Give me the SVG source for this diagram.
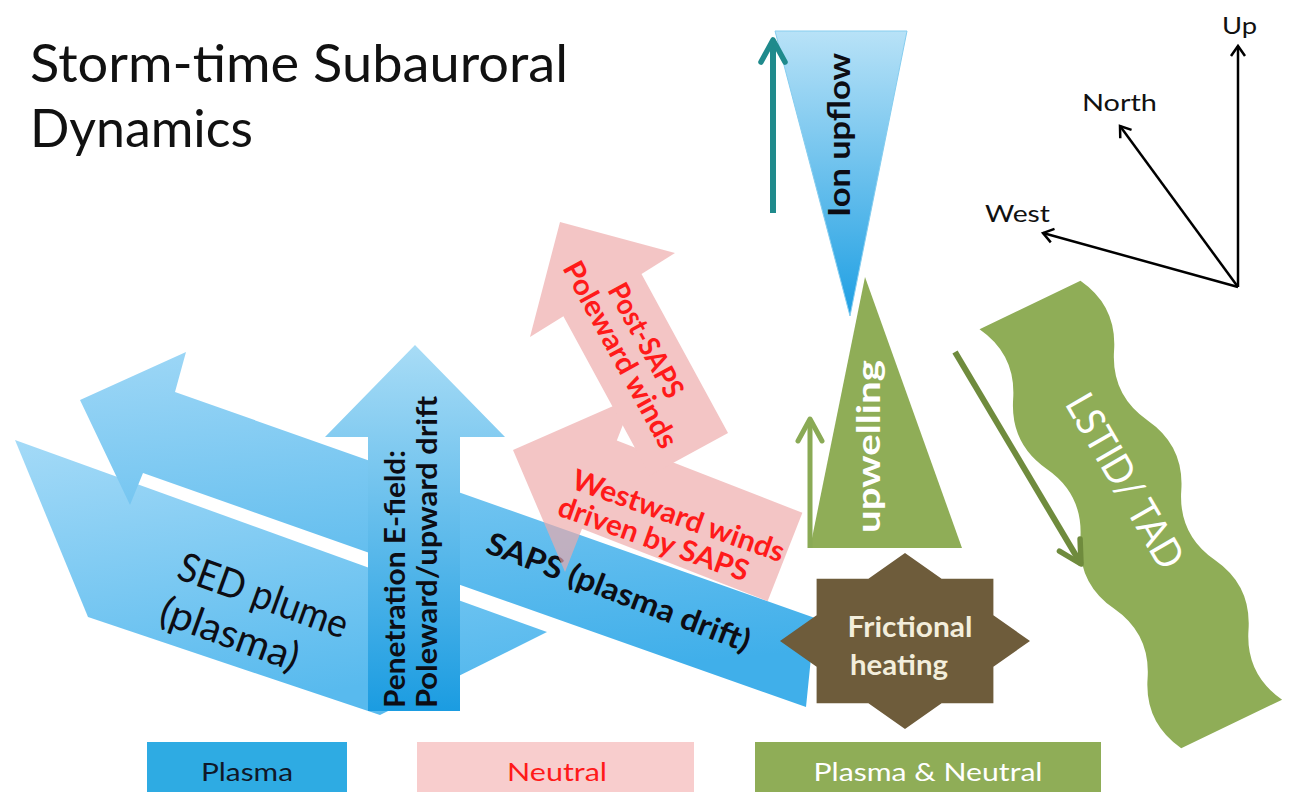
<svg xmlns="http://www.w3.org/2000/svg" width="1298" height="792" viewBox="0 0 1298 792">
<defs>
<style>
.f{font-family:Lato,"Noto Sans","DejaVu Sans",sans-serif}
.b{font-weight:700}
.red{fill:#ff1a1a}
.blk{fill:#0d0d14}
.wht{fill:#ffffff}
.cmp{fill:none;stroke:#000;stroke-width:2.5}
</style>
<linearGradient id="gSED" x1="0" y1="0" x2="0.3" y2="1"><stop offset="0" stop-color="#a4daf7"/><stop offset="1" stop-color="#58baee"/></linearGradient>
<linearGradient id="gSAPS" x1="0" y1="0" x2="0.2" y2="1"><stop offset="0" stop-color="#9ed7f6"/><stop offset="1" stop-color="#40afea"/></linearGradient>
<linearGradient id="gPen" x1="0" y1="0" x2="0" y2="1"><stop offset="0" stop-color="#a8dcf6"/><stop offset="1" stop-color="#1b9ce1"/></linearGradient>
<linearGradient id="gIon" x1="0" y1="0" x2="0" y2="1"><stop offset="0" stop-color="#b8e2f7"/><stop offset="1" stop-color="#1e9fe3"/></linearGradient>
<marker id="mBlack" viewBox="0 0 16 16" refX="13" refY="8" markerWidth="16" markerHeight="16" markerUnits="userSpaceOnUse" orient="auto" overflow="visible"><path d="M3,1 L13,8 L3,15" fill="none" stroke="#000" stroke-width="2.5"/></marker>
<marker id="mTeal" viewBox="0 0 30 30" refX="26" refY="15" markerWidth="30" markerHeight="30" markerUnits="userSpaceOnUse" orient="auto" overflow="visible"><path d="M4,3 L26,15 L4,27" fill="none" stroke="#1f8a8c" stroke-width="5.5" stroke-linecap="round" stroke-linejoin="round"/></marker>
<marker id="mGreen" viewBox="0 0 30 30" refX="26" refY="15" markerWidth="30" markerHeight="30" markerUnits="userSpaceOnUse" orient="auto" overflow="visible"><path d="M4,3 L26,15 L4,27" fill="none" stroke="#8aaa55" stroke-width="5" stroke-linecap="round" stroke-linejoin="round"/></marker>
<marker id="mOlive" viewBox="0 0 30 30" refX="26" refY="15" markerWidth="30" markerHeight="30" markerUnits="userSpaceOnUse" orient="auto" overflow="visible"><path d="M4,3 L26,15 L4,27" fill="none" stroke="#6f8b3d" stroke-width="5.5" stroke-linecap="round" stroke-linejoin="round"/></marker>
</defs>
<rect width="1298" height="792" fill="#ffffff"/>

<g id="node-sed-plume">
<polygon points="15,440 547,632 380,715 88,617" fill="url(#gSED)"/>
</g>
<g id="node-saps">
<polygon points="80,400 186,352 175,392 815,618 806,707 143,473 130,505" fill="url(#gSAPS)"/>
</g>
<g id="node-penetration">
<polygon points="415,345 505,437 460,437 460,711 368,711 368,437 325,437" fill="url(#gPen)"/>
</g>

<g id="labels-plasma" class="f">
<g transform="translate(175,578) rotate(20)"><text x="0" y="0" font-size="40" class="blk" textLength="178" lengthAdjust="spacingAndGlyphs">SED plume</text></g>
<g transform="translate(157,622) rotate(20)"><text x="0" y="0" font-size="40" class="blk" textLength="145" lengthAdjust="spacingAndGlyphs">(plasma)</text></g>
<g transform="translate(484,552) rotate(21)"><text x="0" y="0" font-size="31" class="b blk" textLength="280" lengthAdjust="spacingAndGlyphs">SAPS (plasma drift)</text></g>
<g transform="translate(405,708) rotate(-90)"><text x="0" y="0" font-size="29" class="b blk" textLength="258" lengthAdjust="spacingAndGlyphs">Penetration E-field:</text></g>
<g transform="translate(437,708) rotate(-90)"><text x="0" y="0" font-size="29" class="b blk" textLength="312" lengthAdjust="spacingAndGlyphs">Poleward/upward drift</text></g>
</g>

<g id="winds" opacity="0.68">
<g id="node-westward-winds"><polygon points="513,450 633.8,397 616.8,440.4 802.4,512.8 767.6,601.2 582,528.8 565,572" fill="#eeaaaa"/></g>
<g id="node-post-saps"><polygon points="560,222 675,253 641.5,274 728,433 650,475.5 563.4,316.3 530,337" fill="#eeaaaa"/></g>
</g>
<g id="labels-winds" class="f b red">
<g transform="translate(570,488) rotate(19.5)"><text x="0" y="0" font-size="29" textLength="223" lengthAdjust="spacingAndGlyphs">Westward winds</text></g>
<g transform="translate(556,515) rotate(19.5)"><text x="0" y="0" font-size="29" textLength="200" lengthAdjust="spacingAndGlyphs">driven by SAPS</text></g>
<g transform="translate(607,290) rotate(61.4)"><text x="0" y="0" font-size="29" textLength="126" lengthAdjust="spacingAndGlyphs">Post-SAPS</text></g>
<g transform="translate(562,268) rotate(61.4)"><text x="0" y="0" font-size="29" textLength="208" lengthAdjust="spacingAndGlyphs">Poleward winds</text></g>
</g>

<g id="node-ion-upflow">
<polygon points="775,31 907,31 850,316" fill="url(#gIon)" stroke="#86cdef" stroke-width="1"/>
<g transform="translate(850,217) rotate(-90)"><text class="f b blk" x="0" y="0" font-size="30" textLength="164" lengthAdjust="spacingAndGlyphs">Ion upflow</text></g>
</g>

<g id="node-upwelling">
<polygon points="865,277 962,548 810,548" fill="#8fad57"/>
<g transform="translate(880,533) rotate(-90)"><text class="f b wht" x="0" y="0" font-size="32" textLength="173" lengthAdjust="spacingAndGlyphs">upwelling</text></g>
</g>

<g id="node-frictional-heating">
<polygon points="1030,641 993.4,666.8 993.4,703.2 941.6,703.2 905,729 868.4,703.2 816.6,703.2 816.6,666.8 780,641 816.6,615.2 816.6,578.8 868.4,578.8 905,553 941.6,578.8 993.4,578.8 993.4,615.2" fill="#6e5c3b"/>
<text class="f b" x="910" y="637" font-size="29" fill="#f3eedc" text-anchor="middle" textLength="125" lengthAdjust="spacingAndGlyphs">Frictional</text>
<text class="f b" x="899" y="675" font-size="29" fill="#f3eedc" text-anchor="middle" textLength="98" lengthAdjust="spacingAndGlyphs">heating</text>
</g>

<g id="node-lstid">
<path transform="translate(1030,305) rotate(64.3)" d="M0,-56 Q38.75,-78 77.5,-56 T155,-56 T232.5,-56 T310,-56 T387.5,-56 T465,-56 L465,56 Q426.25,78 387.5,56 T310,56 T232.5,56 T155,56 T77.5,56 T0,56 Z" fill="#8fad57"/>
<g transform="translate(1125,481) rotate(60)"><text class="f wht" x="0" y="14" font-size="40" text-anchor="middle" textLength="195" lengthAdjust="spacingAndGlyphs">LSTID/ TAD</text></g>
</g>

<g id="connectors">
<line x1="773" y1="213" x2="773" y2="40" stroke="#1f8a8c" stroke-width="6" marker-end="url(#mTeal)"/>
<line x1="810" y1="548" x2="810" y2="419" stroke="#8aaa55" stroke-width="5" marker-end="url(#mGreen)"/>
<line x1="955" y1="352" x2="1081" y2="564" stroke="#6f8b3d" stroke-width="6" marker-end="url(#mOlive)"/>
<line class="cmp" x1="1238" y1="287" x2="1238" y2="46" marker-end="url(#mBlack)"/>
<line class="cmp" x1="1238" y1="287" x2="1120" y2="126" marker-end="url(#mBlack)"/>
<line class="cmp" x1="1238" y1="287" x2="1043" y2="233" marker-end="url(#mBlack)"/>
</g>

<g id="compass-labels" class="f" fill="#111">
<text x="1222" y="34" font-size="24" textLength="35" lengthAdjust="spacingAndGlyphs">Up</text>
<text x="1082" y="111" font-size="24" textLength="75" lengthAdjust="spacingAndGlyphs">North</text>
<text x="985" y="222" font-size="24" textLength="65" lengthAdjust="spacingAndGlyphs">West</text>
</g>

<g id="legend" class="f">
<g id="legend-plasma"><rect x="147" y="742" width="200" height="50" fill="#2eabe3"/><text x="247" y="781" font-size="25" fill="#101828" text-anchor="middle" textLength="92" lengthAdjust="spacingAndGlyphs">Plasma</text></g>
<g id="legend-neutral"><rect x="417" y="742" width="277" height="50" fill="#f8cdcd"/><text x="557" y="781" font-size="25" fill="#ff1a1a" text-anchor="middle" textLength="100" lengthAdjust="spacingAndGlyphs">Neutral</text></g>
<g id="legend-both"><rect x="755" y="742" width="346" height="50" fill="#8fad57"/><text x="928" y="781" font-size="25" fill="#ffffff" text-anchor="middle" textLength="229" lengthAdjust="spacingAndGlyphs">Plasma &amp; Neutral</text></g>
</g>

<g id="title" class="f" fill="#111">
<text x="30" y="82" font-size="52" textLength="538" lengthAdjust="spacingAndGlyphs">Storm-time Subauroral</text>
<text x="30" y="147" font-size="52" textLength="223" lengthAdjust="spacingAndGlyphs">Dynamics</text>
</g>
</svg>
